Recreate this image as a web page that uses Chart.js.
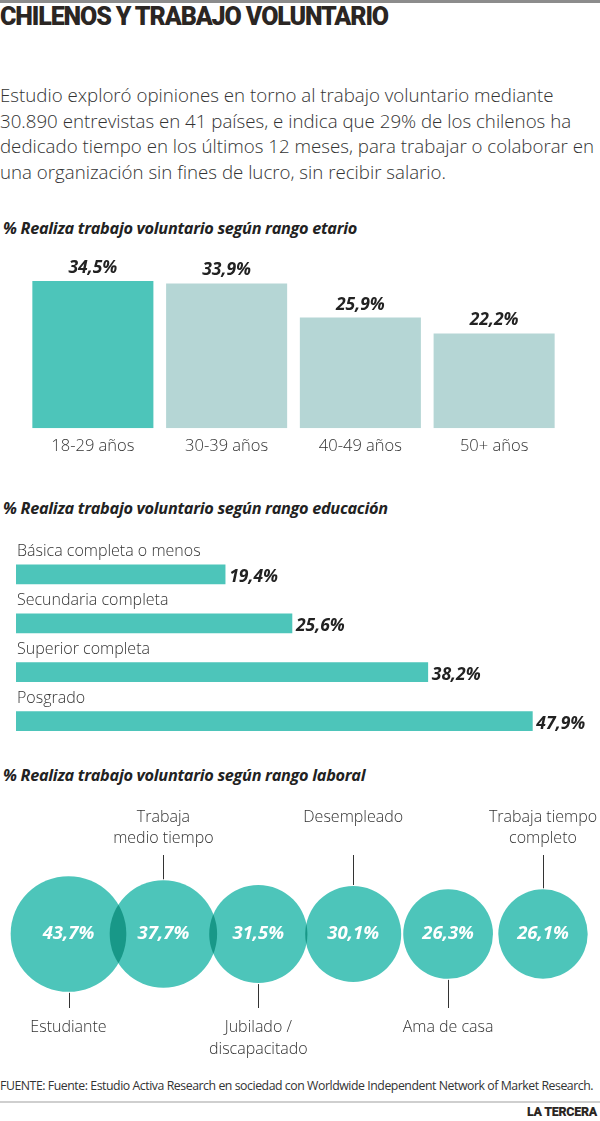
<!DOCTYPE html>
<html>
<head>
<meta charset="utf-8">
<script src="https://cdn.jsdelivr.net/npm/chart.js@4"></script>
<style>
  body { margin: 0; background: #fff; font-family: "Open Sans", sans-serif; color: #333; }
  #page { position: relative; width: 600px; height: 1121px; overflow: hidden; }
  .abs { position: absolute; }
  #topline { left: 0; top: 0; width: 600px; height: 3px; background: #8c8c8c; }
  #title { left: 0; top: 2px; font-family: Roboto, sans-serif; font-weight: 900; font-size: 25px; color: #2b2623; letter-spacing: -1.1px; white-space: nowrap; }
  #intro { left: 0; top: 82px; width: 600px; font-size: 18.7px; line-height: 25.5px; font-weight: 300; color: #333; }
  .sub { left: 3px; font-weight: 700; font-style: italic; font-size: 16.3px; color: #222; white-space: nowrap; letter-spacing: -0.3px; }
  #fuente { left: 0; top: 1077px; font-size: 12.3px; color: #333; white-space: nowrap; letter-spacing: -0.45px; }
  #bottomline { left: 0; top: 1101px; width: 600px; height: 2px; background: #cfcfcf; }
  #brand { right: 3px; top: 1104px; font-family: Roboto, sans-serif; font-weight: 900; font-size: 12.5px; color: #2b2623; letter-spacing: -0.3px; }
  canvas { position: absolute; left: 0; }
</style>
</head>
<body>
<div id="page">
  <div id="topline" class="abs"></div>
  <div id="title" class="abs">CHILENOS Y TRABAJO VOLUNTARIO</div>
  <div id="intro" class="abs">Estudio exploró opiniones en torno al trabajo voluntario mediante 30.890 entrevistas en 41 países, e indica que 29% de los chilenos ha dedicado tiempo en los últimos 12 meses, para trabajar o colaborar en una organización sin fines de lucro, sin recibir salario.</div>

  <div class="abs sub" style="top:217px">% Realiza trabajo voluntario según rango etario</div>
  <canvas id="edadChart" width="600" height="214" style="top:250px"></canvas>

  <div class="abs sub" style="top:497px">% Realiza trabajo voluntario según rango educación</div>
  <canvas id="educChart" width="600" height="210" style="top:540px"></canvas>

  <div class="abs sub" style="top:764px">% Realiza trabajo voluntario según rango laboral</div>
  <canvas id="laboralChart" width="600" height="265" style="top:795px"></canvas>

  <div id="fuente" class="abs">FUENTE: Fuente: Estudio Activa Research en sociedad con Worldwide Independent Network of Market Research.</div>
  <div id="bottomline" class="abs"></div>
  <div id="brand" class="abs">LA TERCERA</div>
</div>

<script>
// datos
const edadLabels = ["18-29 años", "30-39 años", "40-49 años", "50+ años"];
const edadValues = [34.5, 33.9, 25.9, 22.2];

const educLabels = ["Básica completa o menos", "Secundaria completa", "Superior completa", "Posgrado"];
const educValues = [19.4, 25.6, 38.2, 47.9];

const laboralLabels = [["Estudiante"], ["Trabaja", "medio tiempo"], ["Jubilado /", "discapacitado"], ["Desempleado"], ["Ama de casa"], ["Trabaja tiempo", "completo"]];
const laboralValues = [43.7, 37.7, 31.5, 30.1, 26.3, 26.1];

const teal = "#4dc5ba";
const lightTeal = "#b5d6d5";
const fontFam = '"Open Sans", sans-serif';

function pct(v) {
  return v.toFixed(1).replace(".", ",") + "%";
}

// etiquetas de valor sobre las barras verticales
const edadLabelsPlugin = {
  id: "edadValores",
  afterDatasetsDraw(chart) {
    const ctx = chart.ctx;
    const meta = chart.getDatasetMeta(0);
    ctx.save();
    ctx.font = "italic 700 17.5px " + fontFam;
    ctx.fillStyle = "#222";
    ctx.textAlign = "center";
    ctx.textBaseline = "middle";
    meta.data.forEach((bar, i) => {
      ctx.fillText(pct(edadValues[i]), bar.x, bar.y - 13);
    });
    ctx.restore();
  }
};

new Chart("edadChart", {
  type: "bar",
  data: {
    labels: edadLabels,
    datasets: [{
      data: edadValues,
      backgroundColor: edadValues.map((v, i) => i === 0 ? teal : lightTeal),
      categoryPercentage: 1,
      barPercentage: 0.905
    }]
  },
  options: {
    responsive: false,
    animation: false,
    layout: { padding: { left: 26, right: 39, top: 7.4, bottom: 0 } },
    plugins: { legend: { display: false }, tooltip: { enabled: false } },
    scales: {
      x: {
        grid: { display: false, drawTicks: false },
        border: { display: false },
        ticks: { color: "#333", padding: 8, font: { family: fontFam, size: 16.5, weight: 300 } }
      },
      y: { display: false, min: 0, max: 40 }
    }
  },
  plugins: [edadLabelsPlugin]
});

// etiquetas de categoría y valor en barras horizontales
const educLabelsPlugin = {
  id: "educValores",
  afterDatasetsDraw(chart) {
    const ctx = chart.ctx;
    const meta = chart.getDatasetMeta(0);
    const left = chart.chartArea.left;
    ctx.save();
    ctx.textBaseline = "middle";
    ctx.textAlign = "left";
    meta.data.forEach((bar, i) => {
      ctx.font = "300 16px " + fontFam;
      ctx.fillStyle = "#333";
      ctx.fillText(educLabels[i], left + 1, bar.y - 23);
      ctx.font = "italic 700 17.5px " + fontFam;
      ctx.fillStyle = "#222";
      ctx.fillText(pct(educValues[i]), bar.x + 4, bar.y + 3);
    });
    ctx.restore();
  }
};

new Chart("educChart", {
  type: "bar",
  data: {
    labels: educLabels,
    datasets: [{
      data: educValues,
      backgroundColor: teal,
      barThickness: 19
    }]
  },
  options: {
    indexAxis: "y",
    responsive: false,
    animation: false,
    layout: { padding: { left: 16, right: 45, top: 10, bottom: 4.5 } },
    plugins: { legend: { display: false }, tooltip: { enabled: false } },
    scales: {
      x: { display: false, min: 0, max: 50 },
      y: { display: false }
    }
  },
  plugins: [educLabelsPlugin]
});

// burbujas con mezcla multiply y líneas guía
const laboralPlugin = {
  id: "laboralExtras",
  beforeDatasetsDraw(chart) {
    chart.ctx.save();
    chart.ctx.globalCompositeOperation = "multiply";
  },
  afterDatasetsDraw(chart) {
    const ctx = chart.ctx;
    ctx.restore();
    const meta = chart.getDatasetMeta(0);
    ctx.save();
    meta.data.forEach((pt, i) => {
      const r = pt.options.radius;
      ctx.font = "italic 700 18.5px " + fontFam;
      ctx.fillStyle = "#fff";
      ctx.textAlign = "center";
      ctx.textBaseline = "middle";
      ctx.fillText(pct(laboralValues[i]), pt.x, pt.y);

      const up = i % 2 === 1;
      const lines = laboralLabels[i];
      ctx.strokeStyle = "#333";
      ctx.lineWidth = 1;
      ctx.beginPath();
      const x = Math.round(pt.x) + 0.5;
      if (up) {
        ctx.moveTo(x, pt.y - r - 1);
        ctx.lineTo(x, pt.y - 79);
      } else {
        ctx.moveTo(x, pt.y + r + 1);
        ctx.lineTo(x, pt.y + 74);
      }
      ctx.stroke();

      ctx.font = "300 16px " + fontFam;
      ctx.fillStyle = "#333";
      lines.forEach((t, j) => {
        const y = up ? pt.y - 117 + j * 21 : pt.y + 93 + j * 22;
        ctx.fillText(t, pt.x, y);
      });
    });
    ctx.restore();
  }
};

new Chart("laboralChart", {
  type: "bubble",
  data: {
    datasets: [{
      data: laboralValues.map((v, i) => ({ x: i, y: 0, r: 8.75 * Math.sqrt(v) })),
      backgroundColor: teal,
      borderWidth: 0,
      hoverRadius: 0,
      clip: false
    }]
  },
  options: {
    responsive: false,
    animation: false,
    layout: { autoPadding: false, padding: { left: 68.5, right: 57, top: 39, bottom: 26 } },
    plugins: { legend: { display: false }, tooltip: { enabled: false } },
    scales: {
      x: { display: false, min: 0, max: 5 },
      y: { display: false, min: -1, max: 1 }
    }
  },
  plugins: [laboralPlugin]
});
</script>
</body>
</html>
